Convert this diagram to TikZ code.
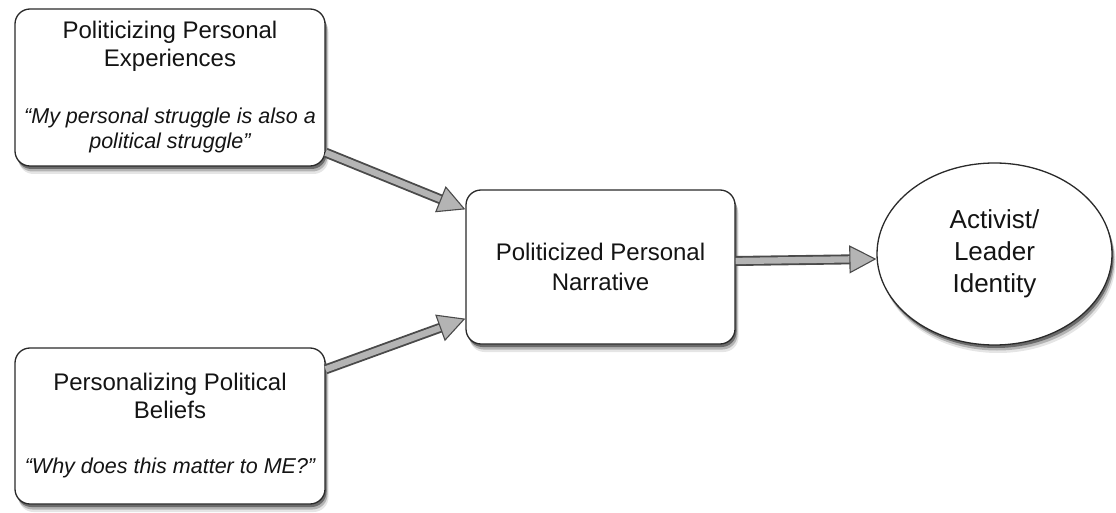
\documentclass[tikz,border=0pt]{standalone}
\usepackage{fontspec}
\setmainfont{Liberation Sans}
\usetikzlibrary{shapes.geometric,shadows,arrows.meta,calc}
\definecolor{txt}{HTML}{141414}
\definecolor{edge}{HTML}{2A2A2A}
\definecolor{shaft}{HTML}{B4B4B4}
\newcommand{\quotetext}{\fontsize{21.5}{25}\selectfont\itshape}
\begin{document}
\begin{tikzpicture}[x=1pt,y=1pt,
  softshadow/.style={
    general shadow={shadow xshift=1.5pt, shadow yshift=-3pt, fill=black, opacity=0.4},
    general shadow={shadow xshift=2.5pt, shadow yshift=-5.5pt, fill=black, opacity=0.22},
    general shadow={shadow xshift=3.5pt, shadow yshift=-8pt, fill=black, opacity=0.1}},
  roundbox/.style={rectangle, rounded corners=15pt, draw=edge, line width=1.3pt,
    fill=white, softshadow, text=txt, align=center, inner sep=0pt,
    font=\fontsize{24}{28}\selectfont},
  ovalbox/.style={ellipse, draw=edge, line width=1.3pt, fill=white, softshadow,
    text=txt, align=center, inner sep=0pt, font=\fontsize{26}{32}\selectfont},
  shaftout/.style={draw=edge!85, line width=10pt, shorten >=25pt},
  shaftin/.style={draw=shaft, line width=6.3pt, shorten >=24pt},
  headtip/.style={draw=shaft, line width=0.5pt,
    -{Triangle[length=27pt, width=28pt, color=edge!85, fill=shaft, line width=1.1pt]}}
]
\useasboundingbox (0,0) rectangle (1116,512);

\node[roundbox, minimum width=310pt, minimum height=157pt] (p1) at (170,424.5)
  {Politicizing Personal\\ Experiences\\[29pt]
   \quotetext ``My personal struggle is also a\\[-3pt] \quotetext political struggle''};

\node[roundbox, minimum width=310pt, minimum height=156pt] (p2) at (170,86)
  {Personalizing Political\\ Beliefs\\[27pt]
   \quotetext ``Why does this matter to ME?''};

\node[roundbox, minimum width=269pt, minimum height=154pt] (mid) at (600.5,245)
  {Politicized Personal\\[2pt] Narrative};

\node[ovalbox, minimum width=235pt, minimum height=182pt] (ell) at (994.5,258)
  {Activist/\\ Leader\\ Identity};

% connectors
\coordinate (a1s) at ([yshift=14pt]p1.south east);
\coordinate (a1e) at ([yshift=-20pt]mid.north west);
\coordinate (a2s) at ([yshift=-22pt]p2.north east);
\coordinate (a2e) at ([yshift=26pt]mid.south west);
\coordinate (a3s) at ([yshift=6pt]mid.east);
\coordinate (a3e) at ([yshift=-5pt]ell.west);

\foreach \s/\e in {a1s/a1e, a2s/a2e, a3s/a3e}{
  \draw[shaftout] (\s) -- (\e);
  \draw[shaftin] (\s) -- (\e);
  \draw[headtip] (\s) -- (\e);
}
\end{tikzpicture}
\end{document}
